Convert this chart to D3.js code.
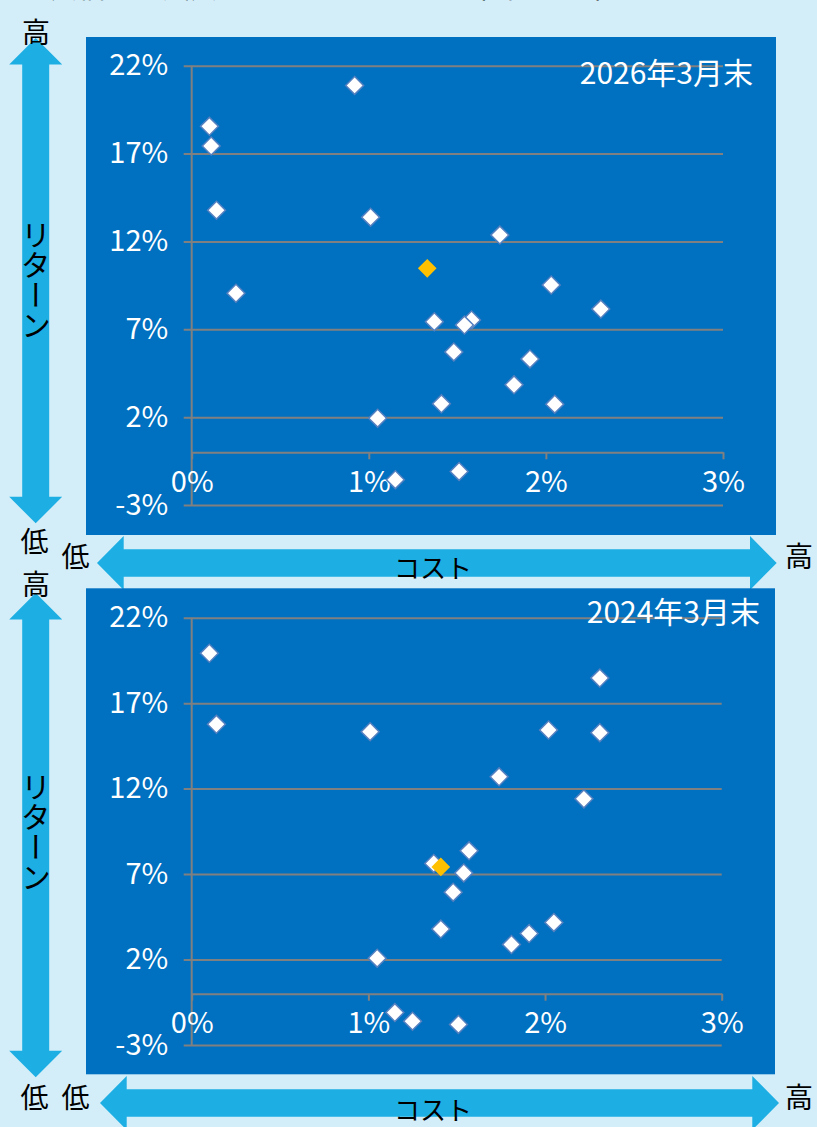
<!DOCTYPE html>
<html>
<head>
<meta charset="utf-8">
<script src="https://cdn.jsdelivr.net/npm/d3@7/dist/d3.min.js"></script>
<style>
  html, body { margin: 0; padding: 0; background: #D3EEF9; }
  svg { display: block; }
  text { font-family: "Noto Sans CJK JP", "Noto Sans", sans-serif; }
</style>
</head>
<body>
<svg id="chart" width="817" height="1127"></svg>
<script>
// Axis ticks (percent)
const costTicks = [0, 1, 2, 3];
const returnTicks = [-3, 2, 7, 12, 17, 22];

// Fund universe, end of March 2026: annual cost (%) and return (%)
const fundCost2026 = [0.10, 0.11, 0.14, 0.92, 1.01, 0.25, 1.74, 2.03, 2.31, 1.37, 1.58, 1.54, 1.48, 1.91, 1.82, 1.41, 2.05, 1.51, 1.05, 1.15];
const fundReturn2026 = [18.55, 17.43, 13.78, 20.88, 13.38, 9.05, 12.36, 9.52, 8.15, 7.43, 7.53, 7.24, 5.71, 5.31, 3.84, 2.76, 2.74, -1.09, 1.94, -1.56];
const focusCost2026 = [1.33];
const focusReturn2026 = [10.47];

// Fund universe, end of March 2024
const fundCost2024 = [0.10, 0.14, 1.01, 2.31, 2.02, 2.31, 1.74, 2.22, 1.57, 1.37, 1.54, 1.48, 1.41, 1.81, 1.91, 2.05, 1.05, 1.15, 1.25, 1.51];
const fundReturn2024 = [19.92, 15.76, 15.33, 18.47, 15.43, 15.27, 12.69, 11.40, 8.36, 7.62, 7.07, 5.94, 3.78, 2.88, 3.52, 4.17, 2.08, -1.10, -1.61, -1.80];
const focusCost2024 = [1.41];
const focusReturn2024 = [7.42];

const panelTitles = ["2026年3月末", "2024年3月末"];
const headerText = "投資信託の実質コストとリターン（年率）【3年】";

const svg = d3.select("#chart");
const PANEL = "#0070C0", ARROW = "#1DAEE3", GRID = "#808080";

// header line running off the top edge
svg.append("text").attr("x", 22).attr("y", -2).attr("font-size", 28).attr("fill", "#000").text(headerText);

function upDownArrow(cx, top, bottom, headLen, shaftW, headW) {
  const s = shaftW / 2, h = headW / 2;
  return d3.line()([
    [cx, top], [cx + h, top + headLen], [cx + s, top + headLen],
    [cx + s, bottom - headLen], [cx + h, bottom - headLen], [cx, bottom],
    [cx - h, bottom - headLen], [cx - s, bottom - headLen], [cx - s, top + headLen],
    [cx - h, top + headLen]
  ]) + "Z";
}
function leftRightArrow(cy, left, right, headLen, shaftW, headW) {
  const s = shaftW / 2, h = headW / 2;
  return d3.line()([
    [left, cy], [left + headLen, cy - h], [left + headLen, cy - s],
    [right - headLen, cy - s], [right - headLen, cy - h], [right, cy],
    [right - headLen, cy + h], [right - headLen, cy + s], [left + headLen, cy + s],
    [left + headLen, cy + h]
  ]) + "Z";
}

function drawPanel(o) {
  const g = svg.append("g");
  // side and bottom arrows
  g.append("path").attr("d", upDownArrow(35.7, o.vTop, o.vBottom, 26.5, 27, 53)).attr("fill", ARROW);
  g.append("path").attr("d", leftRightArrow(o.hY, o.hLeft, o.hRight, 26.7, 27.4, 54)).attr("fill", ARROW);

  const lbl = (x, y, t) => g.append("text").attr("x", x).attr("y", y).attr("text-anchor", "middle")
    .attr("dominant-baseline", "central").attr("font-size", 28).attr("fill", "#000").text(t);
  lbl(36, o.highY, "高");
  lbl(34.5, o.lowY, "低");
  lbl(75.5, o.lowX, "低");
  lbl(799, o.lowX, "高");
  g.append("text").attr("x", 433).attr("y", o.costY).attr("text-anchor", "middle")
    .attr("dominant-baseline", "central").attr("font-size", 26).attr("fill", "#000").text("コスト");
  g.append("text").attr("x", 36).attr("y", o.retTop)
    .style("writing-mode", "vertical-rl").style("text-orientation", "upright")
    .attr("font-size", 30).attr("fill", "#000").text("リターン");

  // chart panel
  g.append("rect").attr("x", 86).attr("y", o.panelTop).attr("width", o.panelRight - 86)
    .attr("height", o.panelBottom - o.panelTop).attr("fill", PANEL);

  const x = d3.scaleLinear().domain([0, 3]).range([191.7, o.xEnd]);
  const y = d3.scaleLinear().domain([-3, 22]).range([o.yBottom, o.yTop]);

  // horizontal gridlines with return labels
  const yAxis = d3.axisLeft(y).tickValues(returnTicks).tickFormat(d => d + "%")
    .tickSize(-(x(3) - x(0) + 8)).tickPadding(15.5);
  const ya = g.append("g").attr("transform", `translate(${x(0) - 8},0)`).call(yAxis);
  ya.select(".domain").remove();
  ya.selectAll(".tick line").attr("stroke", GRID).attr("stroke-width", 2);
  ya.selectAll(".tick text").attr("fill", "#fff").attr("font-size", 29)
    .style("font-family", '"Noto Sans CJK JP", sans-serif');

  // vertical value axis line
  g.append("line").attr("x1", x(0)).attr("x2", x(0)).attr("y1", y(22)).attr("y2", y(-3))
    .attr("stroke", GRID).attr("stroke-width", 2);

  // cost axis at zero return
  const xAxis = d3.axisBottom(x).tickValues(costTicks).tickFormat(d => d + "%")
    .tickSizeInner(7).tickSizeOuter(0).tickPadding(12);
  const xa = g.append("g").attr("transform", `translate(0,${y(0)})`).call(xAxis);
  xa.select(".domain").attr("stroke", GRID).attr("stroke-width", 2);
  xa.selectAll(".tick line").attr("stroke", GRID).attr("stroke-width", 2);
  xa.selectAll(".tick text").attr("fill", "#fff").attr("font-size", 29)
    .style("font-family", '"Noto Sans CJK JP", sans-serif');

  // panel date
  g.append("text").attr("x", o.titleX).attr("y", o.titleY).attr("text-anchor", "end")
    .attr("font-size", 30).attr("fill", "#fff").text(o.title);

  // fund markers
  const diamond = d3.symbol(d3.symbolSquare, 160);
  const funds = o.cost.map((c, i) => ({ c, r: o.ret[i] }));
  g.append("g").selectAll("path").data(funds).join("path")
    .attr("d", diamond)
    .attr("transform", d => `translate(${x(d.c)},${y(d.r)}) rotate(45)`)
    .attr("fill", "#fff").attr("stroke", "#5580C0").attr("stroke-width", 1.5);

  const focus = o.focusCost.map((c, i) => ({ c, r: o.focusRet[i] }));
  g.append("g").selectAll("path").data(focus).join("path")
    .attr("d", d3.symbol(d3.symbolSquare, 175))
    .attr("transform", d => `translate(${x(d.c)},${y(d.r)}) rotate(45)`)
    .attr("fill", "#FFC000");
}

drawPanel({
  title: panelTitles[0], cost: fundCost2026, ret: fundReturn2026,
  focusCost: focusCost2026, focusRet: focusReturn2026,
  panelTop: 37, panelBottom: 535, panelRight: 776,
  yTop: 65.7, yBottom: 505, xEnd: 723,
  titleX: 753, titleY: 84,
  vTop: 38, vBottom: 523.3, hY: 563, hLeft: 97, hRight: 776.7,
  highY: 31, lowY: 540, lowX: 555, costY: 566, retTop: 220
});

drawPanel({
  title: panelTitles[1], cost: fundCost2024, ret: fundReturn2024,
  focusCost: focusCost2024, focusRet: focusReturn2024,
  panelTop: 588.3, panelBottom: 1074.3, panelRight: 775,
  yTop: 617.7, yBottom: 1045, xEnd: 721.7,
  titleX: 760, titleY: 623,
  vTop: 593, vBottom: 1077.3, hY: 1103, hLeft: 100, hRight: 779,
  highY: 583, lowY: 1095.5, lowX: 1095.5, costY: 1108, retTop: 772
});
</script>
</body>
</html>
